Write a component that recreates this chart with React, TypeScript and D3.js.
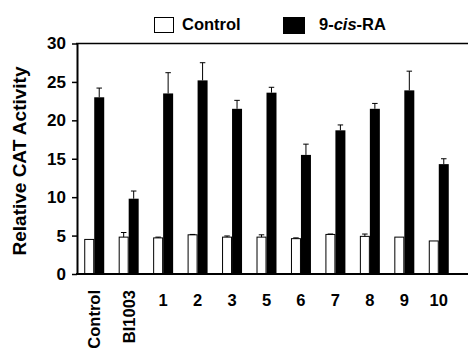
import React, { useEffect, useRef } from 'react';
import * as d3 from 'd3';

const categories = ['Control', 'BI1003', '1', '2', '3', '5', '6', '7', '8', '9', '10'];
const controlValues = [4.5, 4.8, 4.7, 5.1, 4.8, 4.8, 4.6, 5.15, 4.9, 4.8, 4.3];
const controlErrors = [0, 0.6, 0.1, 0.05, 0.15, 0.3, 0.1, 0.05, 0.3, 0, 0];
const raValues = [23.0, 9.8, 23.5, 25.2, 21.5, 23.6, 15.5, 18.7, 21.5, 23.9, 14.3];
const raErrors = [1.2, 1.0, 2.7, 2.3, 1.1, 0.7, 1.4, 0.7, 0.7, 2.5, 0.7];
const yTicks = [0, 5, 10, 15, 20, 25, 30];
const seriesNames = ['Control', '9-cis-RA'];

const W = 468;
const H = 350;

const App = () => {
  const svgRef = useRef<SVGSVGElement>(null);

  useEffect(() => {
    const svg = d3.select(svgRef.current);
    svg.selectAll('*').remove();

    const font = 'Liberation Sans, Arial, sans-serif';
    const left = 77;
    const top = 43.5;
    const bottom = 274;

    const x = d3.scaleBand<string>()
      .domain(categories)
      .range([77, 456])
      .paddingInner(0.42)
      .paddingOuter(0.21);

    const sub = d3.scaleBand<string>()
      .domain(['c', 'r'])
      .range([0, x.bandwidth()])
      .padding(0);

    const y = d3.scaleLinear().domain([0, 30]).range([bottom, top]);

    // bars
    const g = svg.append('g');
    const rows = categories.map((c, i) => ({
      c,
      cv: controlValues[i], ce: controlErrors[i],
      rv: raValues[i], re: raErrors[i],
    }));

    const errBar = (cx: number, v: number, e: number, w: number) => {
      if (e <= 0) return;
      g.append('line')
        .attr('x1', cx).attr('x2', cx)
        .attr('y1', y(v)).attr('y2', y(v + e))
        .attr('stroke', '#000').attr('stroke-width', 1);
      g.append('line')
        .attr('x1', cx - w / 2).attr('x2', cx + w / 2)
        .attr('y1', y(v + e)).attr('y2', y(v + e))
        .attr('stroke', '#000').attr('stroke-width', 1);
    };

    rows.forEach(d => {
      const x0 = x(d.c)!;
      const bw = sub.bandwidth();
      // control (white)
      g.append('rect')
        .attr('x', x0 + sub('c')! + 0.5)
        .attr('y', y(d.cv))
        .attr('width', bw - 1)
        .attr('height', bottom - y(d.cv))
        .attr('fill', '#fff')
        .attr('stroke', '#000')
        .attr('stroke-width', 1);
      errBar(x0 + sub('c')! + bw / 2, d.cv, d.ce, bw * 0.55);
      // 9-cis-RA (black)
      g.append('rect')
        .attr('x', x0 + sub('r')!)
        .attr('y', y(d.rv))
        .attr('width', bw)
        .attr('height', bottom - y(d.rv))
        .attr('fill', '#000');
      errBar(x0 + sub('r')! + bw / 2, d.rv, d.re, bw * 0.55);
    });

    // y axis
    const ya = svg.append('g')
      .attr('transform', `translate(${left},0)`)
      .call(d3.axisLeft(y).tickValues(yTicks).tickSize(5).tickPadding(6).tickSizeOuter(0));
    ya.select('.domain').attr('stroke-width', 2);
    ya.selectAll('.tick line').attr('stroke-width', 1.5);
    ya.selectAll('.tick text')
      .attr('font-family', font)
      .attr('font-size', 17)
      .attr('font-weight', 'bold')
      .attr('fill', '#000');

    // x axis line and top frame line
    svg.append('line')
      .attr('x1', left - 1).attr('x2', W)
      .attr('y1', bottom).attr('y2', bottom)
      .attr('stroke', '#000').attr('stroke-width', 2);
    svg.append('line')
      .attr('x1', left - 1).attr('x2', W)
      .attr('y1', top).attr('y2', top)
      .attr('stroke', '#000').attr('stroke-width', 1.5);

    // x labels
    categories.forEach((c, i) => {
      const cx = x(c)! + x.bandwidth() / 2;
      if (i < 2) {
        svg.append('text')
          .attr('transform', `translate(${cx + 6},290) rotate(-90)`)
          .attr('text-anchor', 'end')
          .attr('font-family', font)
          .attr('font-size', 16.5)
          .attr('font-weight', 'bold')
          .text(c);
      } else {
        svg.append('text')
          .attr('x', cx)
          .attr('y', 306)
          .attr('text-anchor', 'middle')
          .attr('font-family', font)
          .attr('font-size', 16.5)
          .attr('font-weight', 'bold')
          .text(c);
      }
    });

    // y label
    svg.append('text')
      .attr('transform', `translate(26,161) rotate(-90)`)
      .attr('text-anchor', 'middle')
      .attr('font-family', font)
      .attr('font-size', 19)
      .attr('font-weight', 'bold')
      .text('Relative CAT Activity');

    // legend
    const leg = svg.append('g');
    leg.append('rect')
      .attr('x', 154.5).attr('y', 17.5).attr('width', 19).attr('height', 15)
      .attr('fill', '#fff').attr('stroke', '#000').attr('stroke-width', 1);
    leg.append('text')
      .attr('x', 182).attr('y', 30)
      .attr('font-family', font).attr('font-size', 16.5).attr('font-weight', 'bold')
      .text(seriesNames[0]);
    leg.append('rect')
      .attr('x', 283).attr('y', 17).attr('width', 22).attr('height', 17)
      .attr('fill', '#000');
    const t2 = leg.append('text')
      .attr('x', 319).attr('y', 30)
      .attr('font-family', font).attr('font-size', 16.5).attr('font-weight', 'bold');
    t2.append('tspan').text('9-');
    t2.append('tspan').attr('font-style', 'italic').text('cis');
    t2.append('tspan').text('-RA');
  }, []);

  return (
    <div style={{ position: 'absolute', left: 0, top: 0 }}>
      <svg ref={svgRef} width={W} height={H} style={{ display: 'block', background: '#fff' }}></svg>
    </div>
  );
};

export default App;
